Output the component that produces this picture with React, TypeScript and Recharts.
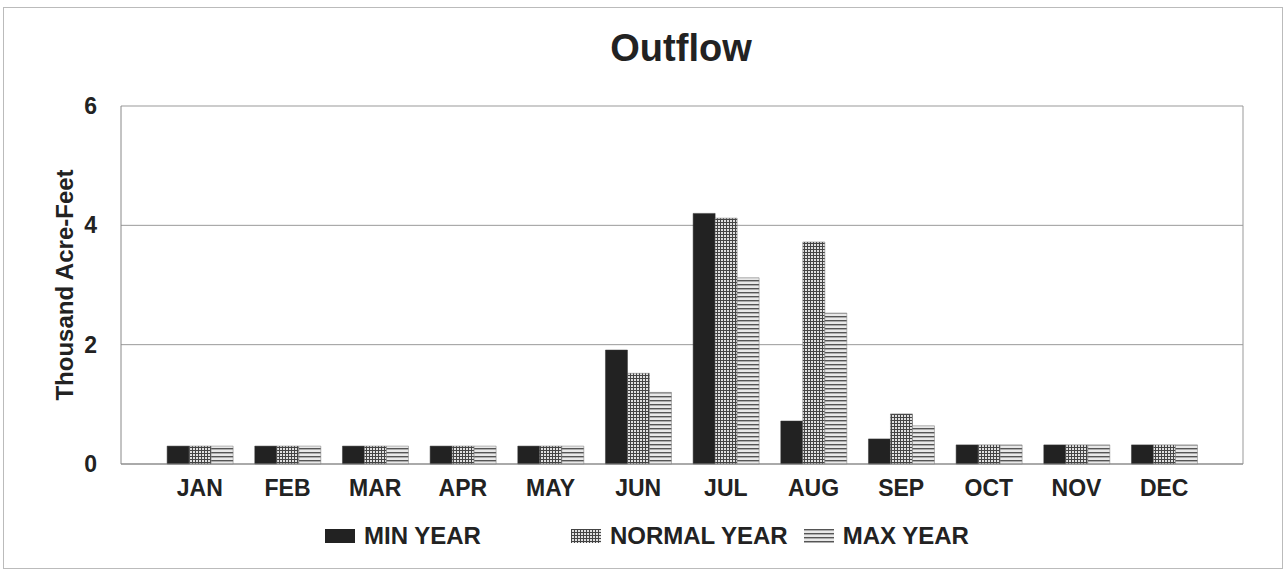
import { BarChart, Bar, CartesianGrid, XAxis, YAxis, Legend } from "recharts";

const months = ["JAN", "FEB", "MAR", "APR", "MAY", "JUN", "JUL", "AUG", "SEP", "OCT", "NOV", "DEC"];
const minYear = [0.3, 0.3, 0.3, 0.3, 0.3, 1.91, 4.2, 0.72, 0.42, 0.32, 0.32, 0.32];
const normalYear = [0.3, 0.3, 0.3, 0.3, 0.3, 1.52, 4.12, 3.72, 0.84, 0.32, 0.32, 0.32];
const maxYear = [0.3, 0.3, 0.3, 0.3, 0.3, 1.2, 3.12, 2.53, 0.64, 0.32, 0.32, 0.32];
const yTicks = [0, 2, 4, 6];

const data = months.map((m, i) => ({
  month: m,
  min: minYear[i],
  normal: normalYear[i],
  max: maxYear[i],
}));

const font = "Arial, 'Liberation Sans', sans-serif";

const legendItems = [
  { label: "MIN YEAR", fill: "#222", gap: 0 },
  { label: "NORMAL YEAR", fill: "url(#normalPat)", gap: 90 },
  { label: "MAX YEAR", fill: "url(#maxPat)", gap: 16 },
];

function LegendContent() {
  return (
    <div style={{ display: "flex", justifyContent: "flex-start", paddingLeft: 325, fontFamily: font }}>
      {legendItems.map((it) => (
        <div key={it.label} style={{ display: "flex", alignItems: "center", marginLeft: it.gap }}>
          <svg width={30} height={14} style={{ marginRight: 9 }}>
            <rect x={0} y={0} width={30} height={14} fill={it.fill} />
          </svg>
          <span style={{ fontSize: 24, fontWeight: "bold", color: "#222", lineHeight: "28px" }}>{it.label}</span>
        </div>
      ))}
    </div>
  );
}

export default function App() {
  return (
    <div style={{ position: "absolute", left: 0, top: 0, width: 1286, height: 572, background: "#fff" }}>
      <div
        style={{
          position: "absolute",
          left: 3,
          top: 7,
          width: 1278,
          height: 560,
          border: "1px solid #bbb",
        }}
      />
      <div
        style={{
          position: "absolute",
          top: 26,
          left: 0,
          width: 1362,
          textAlign: "center",
          fontFamily: font,
          fontWeight: "bold",
          fontSize: 38,
          lineHeight: "44px",
          color: "#222",
        }}
      >
        Outflow
      </div>
      <div style={{ position: "absolute", left: 0, top: 0 }}>
        <BarChart
          width={1286}
          height={572}
          data={data}
          margin={{ top: 106, right: 43, bottom: 50, left: 0 }}
          barCategoryGap="12.7%"
          barGap={0}
        >
          <defs>
            <pattern id="normalPat" width={3} height={3} patternUnits="userSpaceOnUse">
              <rect width={3} height={3} fill="#e0e0e0" />
              <rect width={1} height={3} fill="#444" />
              <rect width={3} height={1} fill="#444" />
            </pattern>
            <pattern id="maxPat" width={4} height={4} patternUnits="userSpaceOnUse">
              <rect width={4} height={4} fill="#e8e8e8" />
              <rect width={4} height={1.4} fill="#555" />
            </pattern>
          </defs>
          <CartesianGrid
            stroke="#999"
            vertical
            verticalCoordinatesGenerator={({ offset }: any) => [offset.left + offset.width]}
          />
          <XAxis
            dataKey="month"
            stroke="#888"
            tickLine={false}
            padding={{ left: 35, right: 35 }}
            tick={{ fill: "#222", fontSize: 23, fontWeight: "bold", fontFamily: font }}
            tickMargin={10}
          />
          <YAxis
            domain={[0, 6]}
            ticks={yTicks}
            width={121}
            stroke="#888"
            tickLine={false}
            tick={{ fill: "#222", fontSize: 23, fontWeight: "bold", fontFamily: font }}
            tickMargin={18}
            label={{
              value: "Thousand Acre-Feet",
              angle: -90,
              position: "insideLeft",
              offset: 64,
              style: { fill: "#222", fontSize: 24, fontWeight: "bold", fontFamily: font, textAnchor: "middle" },
            }}
          />
          <Legend
            content={<LegendContent />}
            wrapperStyle={{ position: "absolute", top: 522, left: 0, width: 1286 }}
          />
          <Bar dataKey="min" name="MIN YEAR" fill="#222" stroke="#333" strokeWidth={0.5} isAnimationActive={false} />
          <Bar dataKey="normal" name="NORMAL YEAR" fill="url(#normalPat)" stroke="#666" strokeWidth={0.5} isAnimationActive={false} />
          <Bar dataKey="max" name="MAX YEAR" fill="url(#maxPat)" stroke="#777" strokeWidth={0.5} isAnimationActive={false} />
        </BarChart>
      </div>
    </div>
  );
}
